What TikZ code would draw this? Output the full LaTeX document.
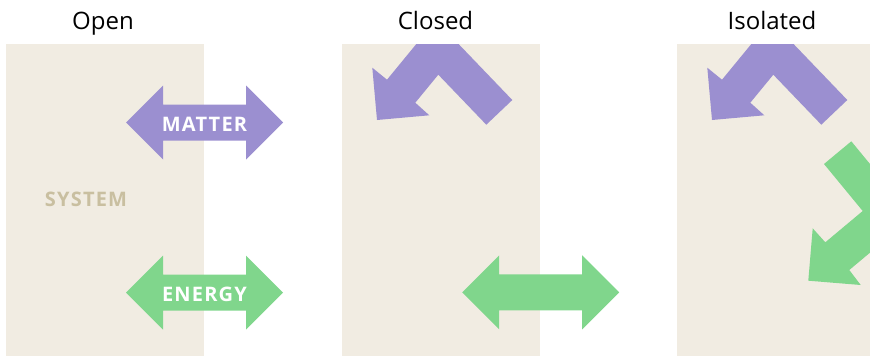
\documentclass[tikz,border=0pt]{standalone}
\usepackage{fontspec}
\setmainfont{Open Sans}
\newfontfamily\flowfont[LetterSpace=6]{Open Sans Bold}
\usetikzlibrary{positioning}
\definecolor{sysfill}{RGB}{241,236,226}
\definecolor{systext}{RGB}{201,191,160}
\definecolor{matterc}{RGB}{155,143,208}
\definecolor{energyc}{RGB}{128,214,140}
\begin{document}
\begin{tikzpicture}[
  x=1pt, y=-1pt,
  sysbox/.style={rectangle, fill=sysfill, anchor=north west, minimum width=198pt, minimum height=312pt, inner sep=0pt},
  title/.style={anchor=base, inner sep=0pt, font=\fontsize{24}{28}\selectfont},
  flow/.style={anchor=base, inner sep=0pt, text=white, font=\flowfont\fontsize{20}{24}\selectfont},
  twoway/.style={insert path={(-78.5,0) -- (-41.5,-37) -- (-41.5,-18) -- (41.5,-18) -- (41.5,-37) -- (78.5,0) -- (41.5,37) -- (41.5,18) -- (-41.5,18) -- (-41.5,37) -- cycle}}
]
\useasboundingbox (0,0) rectangle (870,356);

\node[sysbox] (openbox) at (6,44) {};
\node[sysbox] (closedbox) at (342,44) {};
\node[sysbox, minimum width=193pt] (isolbox) at (677,44) {};

\node[title] (openttl) at (103,29) {Open};
\node[title] (closedttl) at (435.5,29) {Closed};
\node[title] (isolttl) at (772,29) {Isolated};

\node[flow, text=systext] (sys) at (86,206.7) {SYSTEM};

% open: matter and energy both cross
\fill[matterc, shift={(204.5,122.5)}] [twoway];
\fill[energyc, shift={(204.5,292.5)}] [twoway];
\node[flow] (matter) at (204.5,131.7) {MATTER};
\node[flow] (energy) at (204.5,301.7) {ENERGY};

% closed: energy crosses, matter turns back
\fill[energyc, shift={(540.7,292.3)}] [twoway];
\begin{scope}
  \clip (closedbox.north west) rectangle (closedbox.south east);
  \fill[matterc, shift={(closedbox.north west)}] (170.3,56) -- (144.3,80.7) -- (96.3,30.7) -- (73.3,58.7) -- (87.3,71.3)
    -- (35,76) -- (30.3,23.7) -- (45,35.7) -- (93.8,-23.7) -- cycle;
\end{scope}

% isolated: both turn back
\begin{scope}
  \clip (isolbox.north west) rectangle (isolbox.south east);
  \fill[matterc, shift={(isolbox.north west)}] (170.3,56) -- (144.3,80.7) -- (96.3,30.7) -- (73.3,58.7) -- (87.3,71.3)
    -- (35,76) -- (30.3,23.7) -- (45,35.7) -- (93.8,-23.7) -- cycle;
  \fill[energyc, shift={(isolbox.north west)}] (174.3,97.3) -- (147,120) -- (185.7,167) -- (148.3,198.3) -- (135.7,184.3)
    -- (131.3,236.7) -- (183.7,241) -- (172.3,226) -- (236.2,172.5) -- cycle;
\end{scope}
\end{tikzpicture}
\end{document}
